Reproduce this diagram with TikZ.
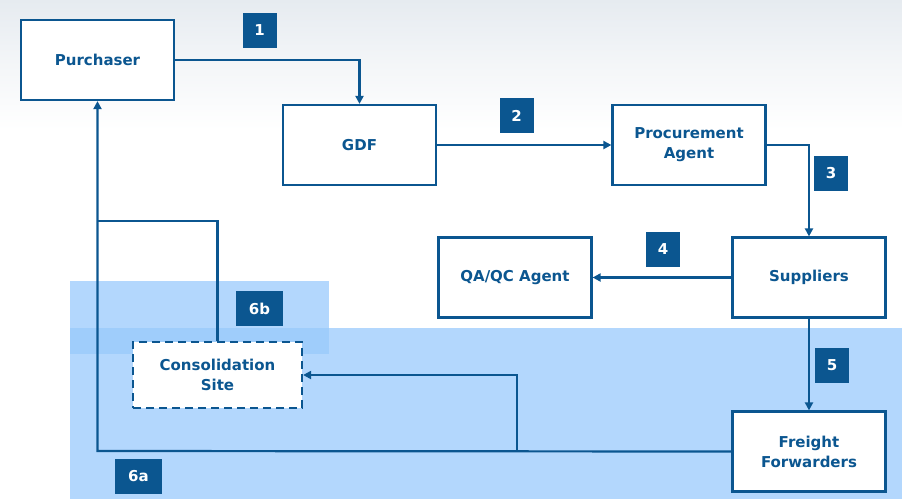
\documentclass[tikz,border=0pt]{standalone}
\usepackage{fontspec}
\setmainfont{DejaVu Sans}
\usetikzlibrary{arrows.meta}

\definecolor{flowblue}{HTML}{0B5690}
\definecolor{zoneblue}{HTML}{B3D7FD}
\definecolor{zonedark}{HTML}{9FCDFB}
\definecolor{skygray}{HTML}{E6EBF0}

\tikzset{
  box/.style={draw=flowblue, line width=2.2pt, fill=white, text=flowblue,
    font=\bfseries\fontsize{15}{20}\selectfont, align=center,
    minimum width=153pt, minimum height=80pt, inner sep=0pt},
  link/.style={draw=flowblue, line width=2.2pt, -{Triangle[length=8pt,width=8pt]}},
  plain/.style={draw=flowblue, line width=2.2pt},
  badge/.style={fill=flowblue, text=white, font=\bfseries\fontsize{15}{18}\selectfont,
    minimum height=35pt, inner sep=0pt},
}

\begin{document}
\begin{tikzpicture}[x=1pt,y=-1pt]
\useasboundingbox (0,0) rectangle (902,499);

% background
\shade[top color=skygray, bottom color=white, middle color=skygray!45] (0,0) rectangle (902,130);
\fill[zoneblue] (70,328) rectangle (902,499);
\fill[zoneblue] (70,281) rectangle (329,328);
\fill[zonedark] (70,328) rectangle (329,354);

% boxes
\node[box] (purchaser) at (97.5,60) {Purchaser};
\node[box] (gdf) at (359.5,145) {GDF};
\node[box] (agent) at (689,145) {Procurement\\Agent};
\node[box] (suppliers) at (809,277.5) {Suppliers};
\node[box] (qaqc) at (515,277.5) {QA/QC Agent};
\node[box] (freight) at (809,451.5) {Freight\\Forwarders};
\node[box, dashed, dash pattern=on 8pt off 5pt, minimum width=169pt, minimum height=66pt] (consol) at (217.5,375) {Consolidation\\Site};

% connectors
\coordinate (turn6a) at (97.5,451);
\coordinate (split) at (517,451);
\coordinate (join6b) at (97.5,221);

\draw[link] (purchaser.east) -| (gdf.north);
\draw[link] (gdf.east) -- (agent.west);
\draw[link] (agent.east) -| (suppliers.north);
\draw[link] (suppliers.west) -- (qaqc.east);
\draw[link] (suppliers.south) -- (freight.north);
\draw[link] (freight.west) -- (turn6a) -- (purchaser.south);
\draw[link] (split) |- (consol.east);
\draw[plain] (consol.north) |- (join6b);

% step badges
\node[badge, minimum width=34pt] (b1) at (259.5,30.5) {1};
\node[badge, minimum width=34pt] (b2) at (516.5,115.5) {2};
\node[badge, minimum width=34pt] (b3) at (831,173.5) {3};
\node[badge, minimum width=34pt] (b4) at (663,249.5) {4};
\node[badge, minimum width=34pt] (b5) at (832,365.5) {5};
\node[badge, minimum width=47pt] (b6b) at (259.5,308.5) {6b};
\node[badge, minimum width=47pt] (b6a) at (138.5,476.5) {6a};

\end{tikzpicture}
\end{document}
